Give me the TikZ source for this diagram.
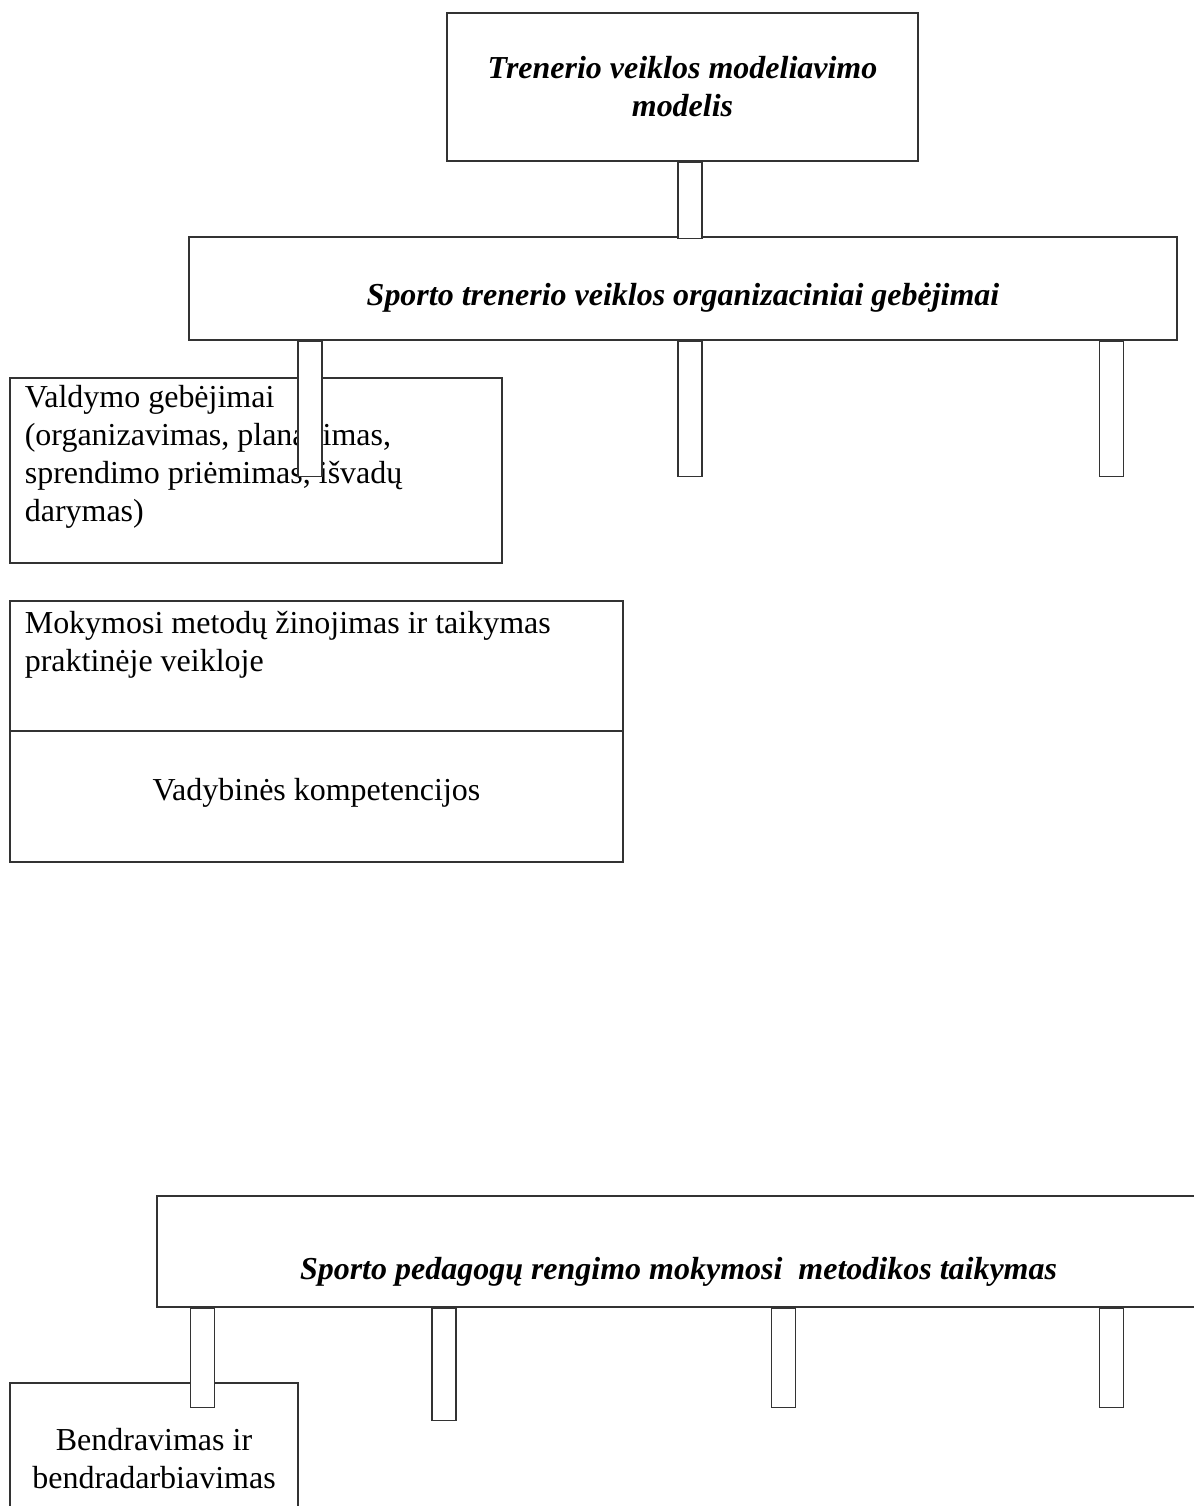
\documentclass[tikz,border=0pt]{standalone}
\usepackage{fontspec}
\setmainfont{Liberation Serif}
\usetikzlibrary{positioning}

\begin{document}
\begin{tikzpicture}[
    box/.style={rectangle, draw=black!80, line width=0.6pt, inner sep=0pt, align=center, font=\fontsize{18.2}{21.6}\selectfont},
    head/.style={box, font=\fontsize{18.2}{21.6}\selectfont\bfseries\itshape},
    txt/.style={anchor=north west, inner sep=0pt, align=left, xshift=0.3cm, yshift=-0.15cm, font=\fontsize{18.2}{21.6}\selectfont},
    bar/.style={rectangle, draw=black!80, line width=0.6pt, fill=white, minimum width=0.48cm, inner sep=0pt, anchor=north}
]
\useasboundingbox (0,0) rectangle (23.86,-30.12);

% Level 1: model
\node[head, minimum width=9.42cm, minimum height=2.96cm] (model) at (13.65,-1.74) {Trenerio veiklos modeliavimo\\modelis};

% Level 2: organisational abilities
\node[head, minimum width=19.76cm, minimum height=2.06cm, text height=0.8cm] (org) at (13.66,-5.77) {Sporto trenerio veiklos organizaciniai gebėjimai};

% Level 3: abilities
\node[box, minimum width=9.84cm, minimum height=3.7cm,
    label={[txt]north west:Valdymo gebėjimai\\(organizavimas, planavimas,\\sprendimo priėmimas, išvadų\\darymas)}] (valdymas) at (5.12,-9.41) {};
\node[box, minimum width=12.26cm, minimum height=2.6cm,
    label={[txt, yshift=-0.06cm]north west:Mokymosi metodų žinojimas ir taikymas\\praktinėje veikloje}] (metodai) at (6.33,-13.32) {};
\node[box, minimum width=12.26cm, minimum height=2.62cm, text depth=0.3cm] (vadyba) at (6.33,-15.93) {Vadybinės kompetencijos};

% Level 4: teaching methodology
\node[head, minimum width=20.86cm, minimum height=2.22cm, text height=1.27cm] (metodika) at (13.57,-25.03) {Sporto pedagogų rengimo mokymosi\ \ metodikos taikymas};
\node[box, minimum width=5.76cm, minimum height=3.24cm, text depth=0.22cm] (bendravimas) at (3.08,-29.28) {Bendravimas ir\\bendradarbiavimas};

% Connectors
\node[bar, minimum height=1.52cm] (b0) at (model.south -| 13.8,0) {};
\node[bar, minimum height=2.7cm] (b1) at (org.south -| 6.2,0) {};
\node[bar, minimum height=2.7cm] (b2) at (org.south -| 13.8,0) {};
\node[bar, minimum height=2.7cm] (b3) at (org.south -| 22.23,0) {};
\node[bar, minimum height=1.98cm] (b4) at (metodika.south -| 4.05,0) {};
\node[bar, minimum height=2.24cm] (b5) at (metodika.south -| 8.88,0) {};
\node[bar, minimum height=1.98cm] (b6) at (metodika.south -| 15.67,0) {};
\node[bar, minimum height=1.98cm] (b7) at (metodika.south -| 22.23,0) {};

\end{tikzpicture}
\end{document}
